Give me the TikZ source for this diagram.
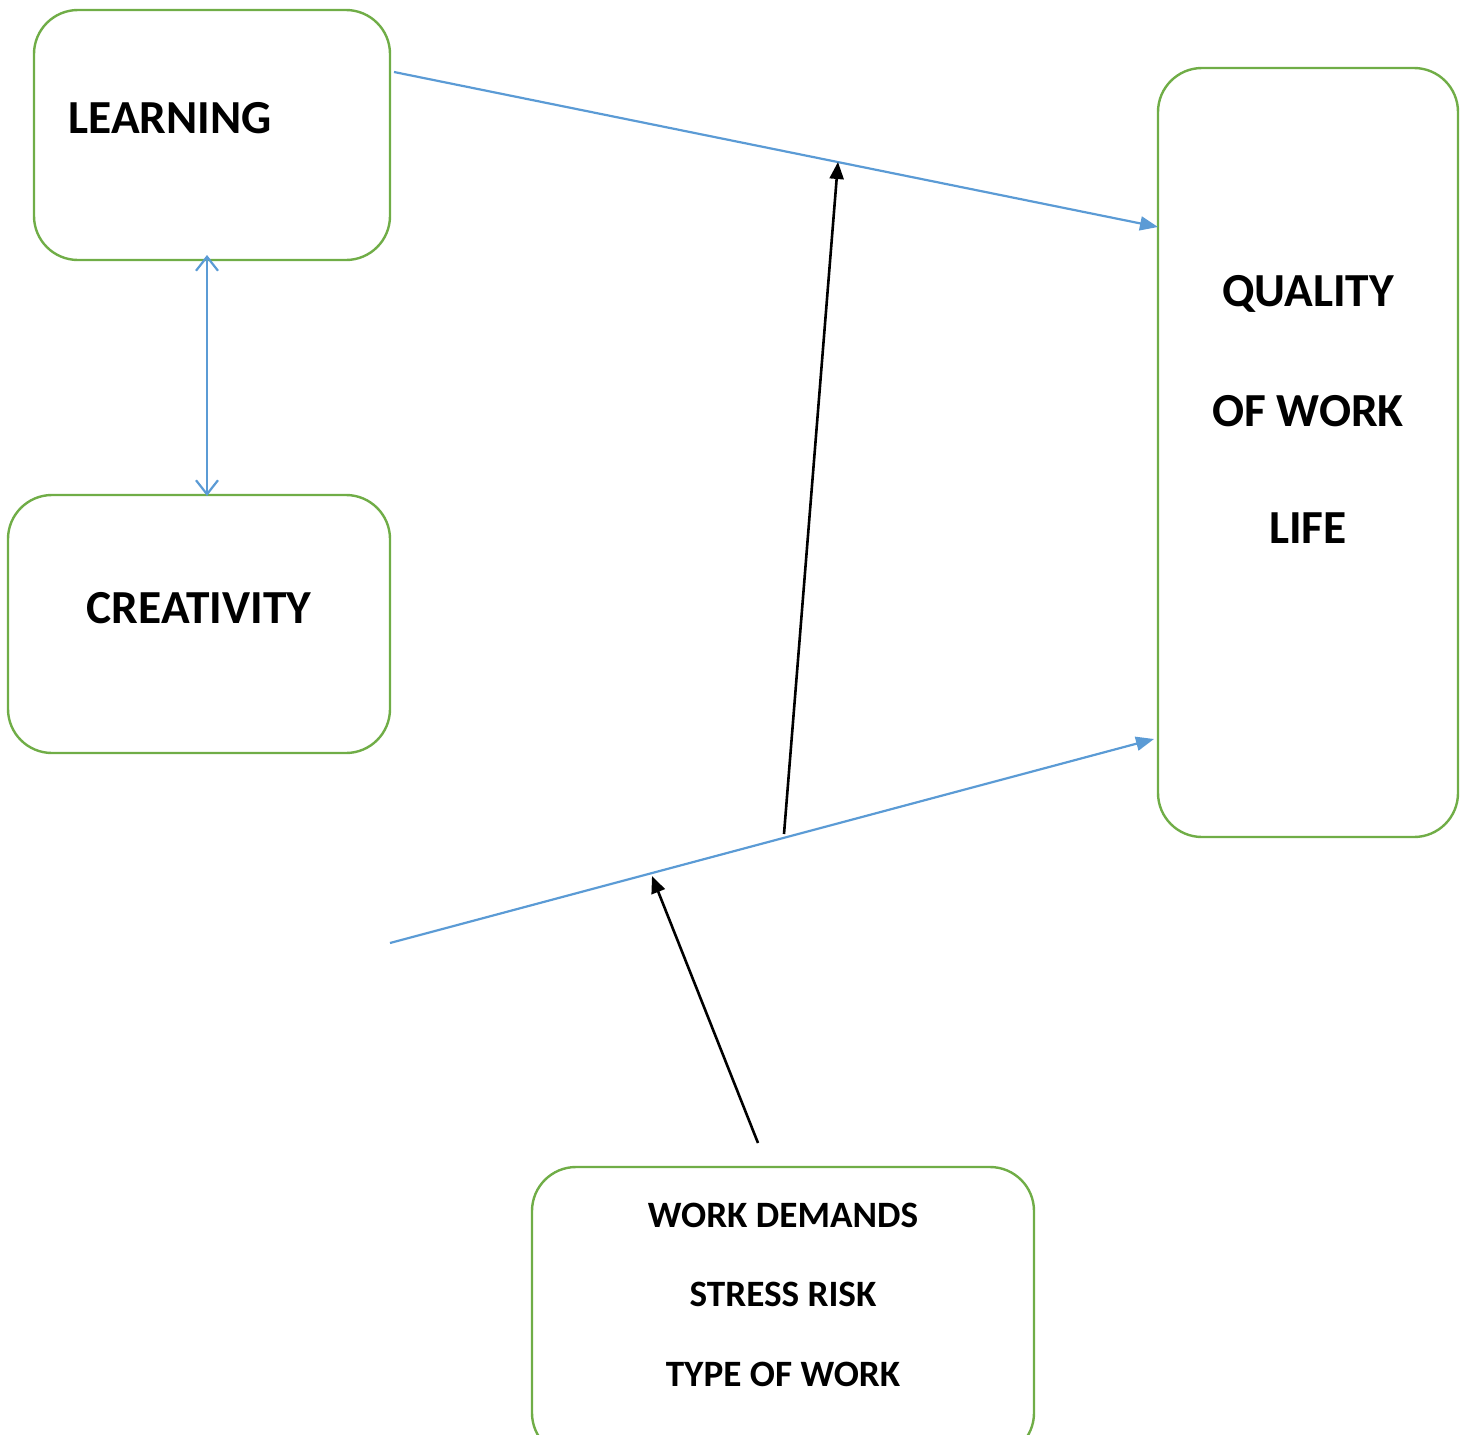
\documentclass[tikz,border=0pt]{standalone}
\usepackage{fontspec}
\setmainfont{Carlito}
\usetikzlibrary{arrows.meta}
\definecolor{boxgreen}{RGB}{112,173,71}
\definecolor{lineblue}{RGB}{91,155,213}
\begin{document}
\begin{tikzpicture}[x=0.5pt,y=-0.5pt,
  box/.style={draw=boxgreen,line width=1.2pt,rounded corners=22pt,inner sep=0pt},
  big/.style={font=\fontsize{23.7}{28}\selectfont\bfseries,inner sep=0pt},
  small/.style={font=\fontsize{18.6}{22}\selectfont\bfseries,inner sep=0pt},
  blueline/.style={draw=lineblue,line width=1.1pt},
  blackline/.style={draw=black,line width=1.3pt,-{Triangle[length=8.5pt,width=7pt]}}]
\useasboundingbox (0,0) rectangle (1468,1435);
\begin{scope}
\clip (0,0) rectangle (1468,1435);
\node[box,minimum width=178pt,minimum height=125pt] (learn) at (212,135) {};
\node[box,minimum width=191pt,minimum height=129pt] (creat) at (199,624) {};
\node[box,minimum width=150pt,minimum height=384.5pt] (qual) at (1308,452.5) {};
\node[box,minimum width=251pt,minimum height=145pt] (work) at (783,1312) {};
\end{scope}
\node[big,anchor=west] (tlearn) at (68,118) {LEARNING};
\node[big] (tcreat) at (199,608) {CREATIVITY};
\node[big] (tq1) at (1308,294) {QUALITY};
\node[big] (tq2) at (1308,411) {OF WORK};
\node[big] (tq3) at (1308,528) {LIFE};
\node[small] (tw1) at (783,1215) {WORK DEMANDS};
\node[small] (tw2) at (783,1294) {STRESS RISK};
\node[small] (tw3) at (783,1374) {TYPE OF WORK};
% connector end points
\coordinate (a1) at (394,72);
\coordinate (a2) at (1158,227);
\coordinate (b1) at (390,943);
\coordinate (b2) at (1154,739);
\coordinate (m1) at (838,162);
\coordinate (m2) at (784,834);
\coordinate (n1) at (652,876);
\coordinate (n2) at (758,1143);
\coordinate (d1) at (207,255);
\coordinate (d2) at (207,496);
\draw[blueline,-{Triangle[length=9pt,width=7pt]}] (a1) -- (a2);
\draw[blueline,-{Triangle[length=9pt,width=7pt]}] (b1) -- (b2);
\draw[blueline,{Straight Barb[length=7pt,width=11pt]}-{Straight Barb[length=7pt,width=11pt]}] (d1) -- (d2);
\draw[blackline] (m2) -- (m1);
\draw[blackline] (n2) -- (n1);
\end{tikzpicture}
\end{document}
